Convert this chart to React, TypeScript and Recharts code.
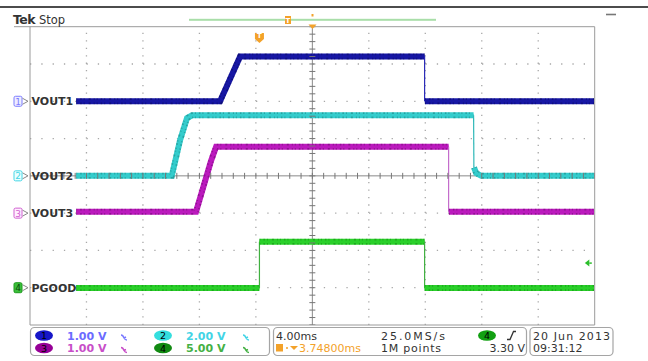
import React from 'react';
import { ComposedChart, Line, XAxis, YAxis, ReferenceLine, ReferenceDot, Scatter } from 'recharts';

// ---- Scope settings ----
const MS_PER_DIV = 4;
const TRIGGER_DELAY = 3.748; // ms
const T_MIN = -5 * MS_PER_DIV + TRIGGER_DELAY;
const T_MAX = 5 * MS_PER_DIV + TRIGGER_DELAY;

// channel vertical settings: volts per div and ground position (div from bottom)
const CH1 = { label: 'VOUT1', num: '1', scale: 1, offset: 6 };
const CH2 = { label: 'VOUT2', num: '2', scale: 2, offset: 4 };
const CH3 = { label: 'VOUT3', num: '3', scale: 1, offset: 3 };
const CH4 = { label: 'PGOOD', num: '4', scale: 5, offset: 1 };

// ---- Waveform data: [time ms (rel. trigger), volts] ----
const vout1Band1: [number, number][] = [[-12.98, 0], [-2.79, 0], [-1.37, 1.2], [11.7, 1.2]];
const vout1Edge: [number, number][] = [[11.7, 1.2], [11.7, 0]];
const vout1Band2: [number, number][] = [[11.72, 0], [23.7, 0]];

const vout2Band1: [number, number][] = [[-12.98, 0], [-6.21, 0], [-5.62, 1.92], [-5.13, 3.1], [-4.77, 3.25], [15.17, 3.25]];
const vout2Edge: [number, number][] = [[15.17, 3.25], [15.19, 0.45]];
const vout2Band2: [number, number][] = [[15.2, 0.45], [15.35, 0.15], [15.71, 0], [23.7, 0]];

const vout3Band1: [number, number][] = [[-12.98, 0.04], [-4.49, 0.04], [-3.43, 1.4], [-3.07, 1.78], [13.4, 1.78]];
const vout3Edge: [number, number][] = [[13.4, 1.78], [13.4, 0.04]];
const vout3Band2: [number, number][] = [[13.42, 0.04], [23.7, 0.04]];

const pgoodBand1: [number, number][] = [[-12.98, -0.05], [0, -0.05]];
const pgoodEdge1: [number, number][] = [[0, -0.05], [0, 6.15]];
const pgoodBand2: [number, number][] = [[0, 6.15], [11.7, 6.15]];
const pgoodEdge2: [number, number][] = [[11.7, 6.15], [11.7, -0.05]];
const pgoodBand3: [number, number][] = [[11.7, -0.05], [23.7, -0.05]];

const TRIGGER_LEVEL = 3.3; // V on CH4

type Ch = typeof CH1;
const toDiv = (pts: [number, number][], ch: Ch) => pts.map(([t, v]) => ({ t, v: ch.offset + v / ch.scale }));

const xTicks = Array.from({ length: 51 }, (_, i) => T_MIN + 0.8 * i);
const yTicks = Array.from({ length: 41 }, (_, i) => 0.2 * i);
const gridX = [1, 2, 3, 4, 6, 7, 8, 9].map((k) => T_MIN + MS_PER_DIV * k);
const gridY = [1, 2, 3, 5, 6, 7];
const T_CENTER = T_MIN + 5 * MS_PER_DIV;
const centerXTicks = xTicks.map((t) => ({ t, v: 4 }));
const centerYTicks = yTicks.map((v) => ({ t: T_CENTER, v }));

const COLORS: Record<string, { body: string; noise: string; edge: string; icon: string; iconFill: string }> = {
  '1': { body: '#1717a4', noise: '#06064e', edge: '#2a2ab8', icon: '#7d7dff', iconFill: '#eeeeff' },
  '2': { body: '#34cccc', noise: '#14706e', edge: '#2fb8b8', icon: '#44d6e6', iconFill: '#eaffff' },
  '3': { body: '#bb1abd', noise: '#5a065a', edge: '#c46ccc', icon: '#d060d0', iconFill: '#ffeeff' },
  '4': { body: '#2ad02a', noise: '#0c7a0c', edge: '#40b040', icon: '#1c9a1c', iconFill: '#3cbf3c' },
};

const FONT = '"DejaVu Sans", sans-serif';

const ChannelLabel = (props: any) => {
  const { cx, cy, ch } = props;
  const c = COLORS[ch.num];
  const filled = ch.num === '4';
  return (
    <g>
      <rect x={cx - 16} y={cy - 5} width={8} height={10} rx={1.5} fill={c.iconFill} stroke={c.icon} strokeWidth={1} />
      <text x={cx - 12} y={cy + 3.5} fontSize={9} textAnchor="middle" fill={filled ? '#0a4a0a' : c.icon} fontFamily={FONT}>{ch.num}</text>
      <path d={`M${cx - 7.5} ${cy - 3} L${cx - 2} ${cy} L${cx - 7.5} ${cy + 3}`} fill="none" stroke="#888" strokeWidth={1} />
      <text x={cx + 1.5} y={cy + 4} fontSize={11} fontWeight="bold" fill="#333" fontFamily={FONT}>{ch.label}</text>
    </g>
  );
};

const TriggerPin = (props: any) => {
  const { cx, cy } = props;
  return (
    <g>
      <path d={`M${cx - 4.5} ${cy - 5} h9 v6 l-4.5 4 l-4.5 -4 z`} fill="#f3a22a" />
      <text x={cx} y={cy + 0.5} fontSize={7} fontWeight="bold" textAnchor="middle" fill="#fff" fontFamily={FONT}>T</text>
    </g>
  );
};

const LevelArrow = (props: any) => {
  const { cx, cy } = props;
  return (
    <g>
      <path d={`M${cx - 3} ${cy} L${cx + 1.5} ${cy - 3.5} L${cx + 1.5} ${cy + 3.5} Z`} fill="#2cbf2c" />
      <line x1={cx + 1.5} y1={cy} x2={cx + 4} y2={cy} stroke="#2cbf2c" strokeWidth={1.5} />
    </g>
  );
};

const HTick = (props: any) => <line x1={props.cx} x2={props.cx} y1={props.cy - 3} y2={props.cy + 3} stroke="#777" strokeWidth={1} />;
const VTick = (props: any) => <line x1={props.cx - 3} x2={props.cx + 3} y1={props.cy} y2={props.cy} stroke="#777" strokeWidth={1} />;

const band = (key: string, pts: [number, number][], ch: Ch) => {
  const c = COLORS[ch.num];
  const d = toDiv(pts, ch);
  return [
    <Line key={key + 'o'} data={d} dataKey="v" type="linear" stroke={c.body} strokeWidth={6} dot={false} activeDot={false} isAnimationActive={false} strokeLinecap="butt" />,
    <Line key={key + 'n'} data={d} dataKey="v" type="linear" stroke={c.noise} strokeOpacity={0.45} strokeWidth={6} strokeDasharray="1 3 1.5 2 1 4 2 3 1 2" dot={false} activeDot={false} isAnimationActive={false} strokeLinecap="butt" />,
    <Line key={key + 'i'} data={d} dataKey="v" type="linear" stroke={c.body} strokeWidth={2.5} dot={false} activeDot={false} isAnimationActive={false} strokeLinecap="butt" />,
  ];
};
const edge = (key: string, pts: [number, number][], ch: Ch) => (
  <Line key={key} data={toDiv(pts, ch)} dataKey="v" type="linear" stroke={COLORS[ch.num].edge} strokeWidth={1.2} dot={false} activeDot={false} isAnimationActive={false} />
);

const Bw = ({ x, y, color }: { x: number; y: number; color: string }) => (
  <path d={`M${x} ${y - 4} q2 0 3 3 q1 2 3 2 m-3 -2 l2 -1`} fill="none" stroke={color} strokeWidth={1.4} />
);

export default function App() {
  const axisStroke = '#9a9a9a';
  return (
    <div style={{ position: 'absolute', left: 0, top: 0, width: 648, height: 361, background: '#fff', fontFamily: FONT }}>
      <div style={{ position: 'absolute', left: 0, top: 0 }}>
        <ComposedChart width={648} height={361} margin={{ top: 26.7, right: 53.3, bottom: 36, left: 30 }}>
          <XAxis xAxisId={0} dataKey="t" type="number" domain={[T_MIN, T_MAX]} allowDataOverflow ticks={xTicks} interval={0} mirror tick={false} tickSize={3} stroke={axisStroke} />
          <XAxis xAxisId="top" orientation="top" dataKey="t" type="number" domain={[T_MIN, T_MAX]} allowDataOverflow ticks={xTicks} interval={0} mirror tick={false} tickSize={3} stroke={axisStroke} />
          <YAxis yAxisId={0} dataKey="v" type="number" domain={[0, 8]} allowDataOverflow ticks={yTicks} interval={0} mirror tick={false} tickSize={3} stroke={axisStroke} />
          <YAxis yAxisId="right" orientation="right" dataKey="v" type="number" domain={[0, 8]} allowDataOverflow ticks={yTicks} interval={0} mirror tick={false} tickSize={3} stroke={axisStroke} />

          {gridX.map((x) => (
            <ReferenceLine key={'gx' + x} x={x} stroke="#a8a8a8" strokeWidth={1.3} strokeDasharray="1.3 6.16" />
          ))}
          {gridY.map((y) => (
            <ReferenceLine key={'gy' + y} y={y} stroke="#a8a8a8" strokeWidth={1.3} strokeDasharray="1.3 10" />
          ))}
          <ReferenceLine x={T_CENTER} stroke="#8a8a8a" strokeWidth={1} />
          <ReferenceLine y={4} stroke="#8a8a8a" strokeWidth={1} />
          <Scatter data={centerXTicks} dataKey="v" shape={HTick} isAnimationActive={false} />
          <Scatter data={centerYTicks} dataKey="v" shape={VTick} isAnimationActive={false} />

          {band('v1a', vout1Band1, CH1)}
          {edge('v1e', vout1Edge, CH1)}
          {band('v1b', vout1Band2, CH1)}

          {band('v2a', vout2Band1, CH2)}
          {edge('v2e', vout2Edge, CH2)}
          {band('v2b', vout2Band2, CH2)}

          {band('v3a', vout3Band1, CH3)}
          {edge('v3e', vout3Edge, CH3)}
          {band('v3b', vout3Band2, CH3)}

          {band('pa', pgoodBand1, CH4)}
          {edge('pe1', pgoodEdge1, CH4)}
          {band('pb', pgoodBand2, CH4)}
          {edge('pe2', pgoodEdge2, CH4)}
          {band('pc', pgoodBand3, CH4)}

          {[CH1, CH2, CH3, CH4].map((ch) => (
            <ReferenceDot key={'lab' + ch.num} x={T_MIN} y={ch.offset} r={1} ifOverflow="visible" shape={(p: any) => <ChannelLabel {...p} ch={ch} />} />
          ))}
          <ReferenceDot x={0} y={7.7} r={1} ifOverflow="visible" shape={TriggerPin} />
          <ReferenceDot x={23.26} y={CH4.offset + TRIGGER_LEVEL / CH4.scale} r={1} ifOverflow="visible" shape={LevelArrow} />
        </ComposedChart>
      </div>

      <svg width={648} height={361} style={{ position: 'absolute', left: 0, top: 0, pointerEvents: 'none' }} fontFamily={FONT}>
        {/* header */}
        <line x1={0} y1={7} x2={648} y2={7} stroke="#111" strokeWidth={1.6} />
        <line x1={606} y1={14.5} x2={616} y2={14.5} stroke="#777" strokeWidth={1.6} />
        <text x={13} y={24} fontSize={12.5} fontWeight="bold" fill="#333" letterSpacing={-0.6}>Tek</text>
        <text x={39} y={24} fontSize={11.5} fill="#333">Stop</text>
        <line x1={14} y1={26.7} x2={30} y2={26.7} stroke="#9a9a9a" strokeWidth={1} />
        <rect x={189} y={18.8} width={247} height={2} fill="#a9dea9" />
        <rect x={285} y={16} width={6} height={8} fill="#f3a22a" />
        <text x={288} y={23} fontSize={7} textAnchor="middle" fill="#fff" fontWeight="bold">T</text>
        <line x1={312.5} y1={14} x2={312.5} y2={16.5} stroke="#f3a22a" strokeWidth={2} />
        <path d="M308.5 24.5 L316.5 24.5 L312.5 29 Z" fill="#f3a22a" />

        {/* bottom panel box 1 */}
        <rect x={30.5} y={327.5} width={239} height={28} rx={4} fill="#fff" stroke="#a5a5a5" strokeWidth={1.2} />
        <ellipse cx={44} cy={335.5} rx={9} ry={5.3} fill="#1616c8" />
        <text x={44} y={339} fontSize={9.5} textAnchor="middle" fill="#000">1</text>
        <text x={67} y={339.5} fontSize={11} fontWeight="bold" fill="#6b6bff">1.00 V</text>
        <Bw x={121} y={339} color="#7a7aff" />
        <ellipse cx={163} cy={335.5} rx={9} ry={5.3} fill="#34dede" />
        <text x={163} y={339} fontSize={9.5} textAnchor="middle" fill="#000">2</text>
        <text x={186} y={339.5} fontSize={11} fontWeight="bold" fill="#42d4e6">2.00 V</text>
        <Bw x={243} y={339} color="#42d4e6" />
        <ellipse cx={44} cy={348} rx={9} ry={5.3} fill="#960096" />
        <text x={44} y={351.5} fontSize={9.5} textAnchor="middle" fill="#000">3</text>
        <text x={67} y={352} fontSize={11} fontWeight="bold" fill="#c84ec8">1.00 V</text>
        <Bw x={121} y={351.5} color="#c84ec8" />
        <ellipse cx={163} cy={348} rx={9} ry={5.3} fill="#128a12" />
        <text x={163} y={351.5} fontSize={9.5} textAnchor="middle" fill="#000">4</text>
        <text x={186} y={352} fontSize={11} fontWeight="bold" fill="#44b044">5.00 V</text>
        <Bw x={243} y={351.5} color="#44b044" />

        {/* box 2 */}
        <rect x={273.5} y={327.5} width={253} height={28} rx={4} fill="#fff" stroke="#a5a5a5" strokeWidth={1.2} />
        <text x={276} y={339.5} fontSize={11} fill="#333">4.00ms</text>
        <text x={381} y={339.5} fontSize={11} fill="#333" textLength={64}>25.0MS/s</text>
        <ellipse cx={487} cy={335.5} rx={9} ry={5.3} fill="#12a012" />
        <text x={487} y={339} fontSize={9.5} textAnchor="middle" fill="#000">4</text>
        <path d="M507 339.5 L510 339.5 L513.5 331.5 L516 331.5" fill="none" stroke="#333" strokeWidth={1.3} />
        <rect x={276} y={344} width={7} height={7.5} fill="#f3a22a" />
        <circle cx={287} cy={348} r={1} fill="#f3a22a" />
        <path d="M290 346 L298 346 L294 350 Z" fill="#f3a22a" />
        <text x={299} y={352} fontSize={11} fill="#f3a22a">3.74800ms</text>
        <text x={381} y={352} fontSize={11} fill="#333" textLength={60}>1M points</text>
        <text x={525} y={352} fontSize={11} fill="#333" textAnchor="end">3.30 V</text>

        {/* box 3 */}
        <rect x={530} y={327.5} width={83} height={28} rx={4} fill="#fff" stroke="#a5a5a5" strokeWidth={1.2} />
        <text x={533} y={339.5} fontSize={11} fill="#333" textLength={77}>20 Jun 2013</text>
        <text x={533} y={352} fontSize={11} fill="#333">09:31:12</text>
      </svg>
    </div>
  );
}
